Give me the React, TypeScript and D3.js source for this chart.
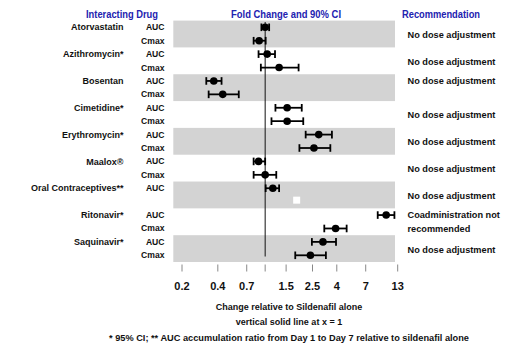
import React from "react";
import * as d3 from "d3";

const drugs = [
  "Atorvastatin",
  "Azithromycin*",
  "Bosentan",
  "Cimetidine*",
  "Erythromycin*",
  "Maalox®",
  "Oral Contraceptives**",
  "Ritonavir*",
  "Saquinavir*",
];
const recommendations = [
  "No dose adjustment",
  "No dose adjustment",
  "No dose adjustment",
  "No dose adjustment",
  "No dose adjustment",
  "No dose adjustment",
  "No dose adjustment",
  "Coadministration not|recommended",
  "No dose adjustment",
];
const recAnchor = ["mid", "mid", "first", "mid", "mid", "mid", "mid", "rows", "mid"];
// two rows per drug
const rowLabels = [
  "AUC", "Cmax", "AUC", "Cmax", "AUC", "Cmax", "AUC", "Cmax", "AUC", "Cmax",
  "AUC", "Cmax", "AUC", "", "AUC", "Cmax", "AUC", "Cmax",
];
const estimates = [
  1.0, 0.89, 1.04, 1.31, 0.37, 0.44, 1.53, 1.53, 2.82, 2.57,
  0.88, 1.0, 1.16, null, 10.4, 3.91, 3.06, 2.4,
];
const lower = [
  0.93, 0.8, 0.88, 0.92, 0.32, 0.335, 1.22, 1.13, 2.19, 1.94,
  0.8, 0.8, 1.01, null, 8.83, 3.14, 2.47, 1.79,
];
const upper = [
  1.08, 1.01, 1.21, 1.91, 0.43, 0.6, 2.03, 2.09, 3.64, 3.53,
  1.0, 1.24, 1.31, null, 12.2, 4.84, 3.94, 3.24,
];
const placeholderValue = 1.84; // white marker in the Oral Contraceptives row
const placeholderRow = 13;
const tickValues = [0.2, 0.4, 0.7, 1, 1.5, 2.5, 4, 7, 13];
const tickLabels = ["0.2", "0.4", "0.7", "", "1.5", "2.5", "4", "7", "13"];

const FONT = "'Liberation Sans', Arial, sans-serif";
const BLUE = "#2222b0";

export default function App() {
  const x = d3.scaleLog().domain([0.2, 13]).range([182, 397.7]);
  const y = d3
    .scaleLinear()
    .domain([0, rowLabels.length - 1])
    .range([27.3, 255.3]);
  const half = (y(1) - y(0)) / 2;
  const bandX0 = 173.3;
  const bandX1 = 395;

  return (
    <svg
      width={521}
      height={356}
      style={{ position: "absolute", left: 0, top: 0, background: "#fff" }}
      fontFamily={FONT}
    >
      <rect x={0} y={0} width={521} height={356} fill="#fff" />
      {/* headers */}
      <text x={122} y={14} dy="0.35em" textAnchor="middle" fontSize={10.5} fontWeight="bold" fill={BLUE} textLength={72} lengthAdjust="spacingAndGlyphs">
        Interacting Drug
      </text>
      <text x={286} y={14} dy="0.35em" textAnchor="middle" fontSize={10.5} fontWeight="bold" fill={BLUE} textLength={110} lengthAdjust="spacingAndGlyphs">
        Fold Change and 90% CI
      </text>
      <text x={441} y={14} dy="0.35em" textAnchor="middle" fontSize={10.5} fontWeight="bold" fill={BLUE} textLength={78} lengthAdjust="spacingAndGlyphs">
        Recommendation
      </text>

      {/* bands */}
      {drugs.map((d, i) =>
        i % 2 === 0 ? (
          <rect
            key={"band" + i}
            x={bandX0}
            width={bandX1 - bandX0}
            y={y(i * 2) - half}
            height={y(i * 2 + 1) - y(i * 2) + 2 * half}
            fill="#d3d3d3"
          />
        ) : null
      )}

      {/* reference line */}
      <line x1={x(1)} x2={x(1)} y1={22} y2={256.5} stroke="#111" strokeWidth={1} />

      {/* placeholder marker */}
      <rect
        x={x(placeholderValue) - 3.5}
        y={y(placeholderRow) - 5}
        width={7}
        height={7}
        fill="#fff"
      />

      {/* CIs and points */}
      {estimates.map((e, i) => {
        if (e == null) return null;
        const lo = lower[i] as number;
        const hi = upper[i] as number;
        const yy = y(i);
        return (
          <g key={"pt" + i}>
            <line x1={x(lo)} x2={x(hi)} y1={yy} y2={yy} stroke="#000" strokeWidth={1.8} />
            <line x1={x(lo)} x2={x(lo)} y1={yy - 3.8} y2={yy + 3.8} stroke="#000" strokeWidth={1.8} />
            <line x1={x(hi)} x2={x(hi)} y1={yy - 3.8} y2={yy + 3.8} stroke="#000" strokeWidth={1.8} />
            <circle cx={x(e)} cy={yy} r={3.8} fill="#000" />
          </g>
        );
      })}

      {/* drug labels */}
      {drugs.map((d, i) => (
        <text key={"drug" + i} x={123.5} y={y(i * 2)} dy="0.35em" textAnchor="end" fontSize={9} fontWeight="bold" fill="#111">
          {d}
        </text>
      ))}
      {rowLabels.map((l, i) =>
        l ? (
          <text key={"rl" + i} x={164.5} y={y(i)} dy="0.35em" textAnchor="end" fontSize={8.6} fontWeight="bold" fill="#111">
            {l}
          </text>
        ) : null
      )}

      {/* recommendations */}
      {recommendations.map((r, i) => {
        const lines = r.split("|");
        const a = recAnchor[i];
        return lines.map((ln, k) => {
          let yy;
          if (a === "rows") yy = y(i * 2 + k);
          else if (a === "first") yy = y(i * 2);
          else yy = (y(i * 2) + y(i * 2 + 1)) / 2 + 0.7;
          return (
            <text key={"rec" + i + "-" + k} x={407.5} y={yy} dy="0.35em" fontSize={9.2} fontWeight="bold" fill="#111">
              {ln}
            </text>
          );
        });
      })}

      {/* axis ticks */}
      {tickValues.map((t, i) => (
        <g key={"tick" + i}>
          <line x1={x(t)} x2={x(t)} y1={264.5} y2={271.5} stroke="#888" strokeWidth={1} />
          <text x={x(t)} y={285.7} dy="0.35em" textAnchor="middle" fontSize={11} fontWeight="bold" fill="#111">
            {tickLabels[i]}
          </text>
        </g>
      ))}

      {/* footers */}
      <text x={289} y={306.7} dy="0.35em" textAnchor="middle" fontSize={9} fontWeight="bold" fill="#111">
        Change relative to Sildenafil alone
      </text>
      <text x={289} y={322.3} dy="0.35em" textAnchor="middle" fontSize={9} fontWeight="bold" fill="#111">
        vertical solid line at x = 1
      </text>
      <text x={289} y={338.3} dy="0.35em" textAnchor="middle" fontSize={9} fontWeight="bold" fill="#111" textLength={360} lengthAdjust="spacingAndGlyphs">
        * 95% CI;  ** AUC accumulation ratio from Day 1 to Day 7 relative to sildenafil alone
      </text>
    </svg>
  );
}
